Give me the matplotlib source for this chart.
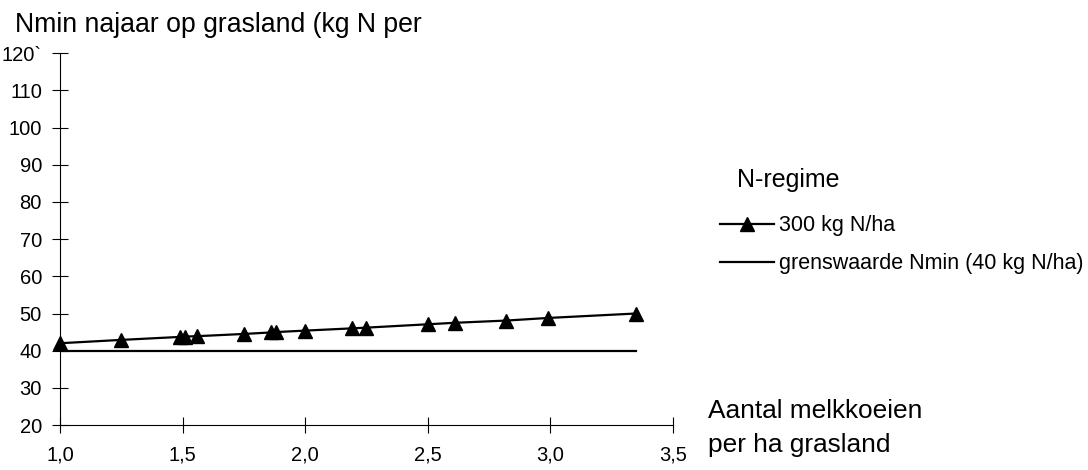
import matplotlib.pyplot as plt
from matplotlib.lines import Line2D

plt.rcParams['font.family'] = ['Liberation Sans', 'DejaVu Sans']

# koeien per ha grasland en Nmin najaar bij 300 kg N/ha
koeien = [1.0, 1.25, 1.49, 1.51, 1.56, 1.75, 1.86, 1.88, 2.0, 2.19, 2.25, 2.5, 2.61, 2.82, 2.99, 3.35]
nmin = [42.0, 42.9, 43.7, 43.8, 43.9, 44.5, 44.9, 45.0, 45.4, 46.0, 46.2, 47.1, 47.5, 48.1, 48.8, 50.0]
# grenswaarde Nmin (40 kg N/ha)
grens_x = [1.0, 3.35]
grens_y = [40, 40]

x_ticks = [1.0, 1.5, 2.0, 2.5, 3.0, 3.5]
y_ticks = list(range(20, 121, 10))

fig = plt.figure(figsize=(10.88, 4.70), dpi=100)
ax = fig.add_axes([0.0551, 0.0957, 0.5634, 0.7909])

ax.plot(grens_x, grens_y, color='black', lw=1.6)
ax.plot(koeien, nmin, color='black', lw=1.6, marker='^', ms=9.5, clip_on=False)

ax.set_xlim(1.0, 3.5)
ax.set_ylim(20, 120)
ax.set_xticks(x_ticks)
ax.set_xticklabels([f"{v:.1f}".replace('.', ',') for v in x_ticks], fontsize=14.5)
ax.set_yticks(y_ticks)
ax.set_yticklabels([str(v) for v in y_ticks[:-1]] + ['120`'], fontsize=14.5)
ax.tick_params(direction='inout', length=12, width=0.8, pad=7)
ax.tick_params(axis='x', pad=9)
for s in ['top', 'right']:
    ax.spines[s].set_visible(False)
for s in ['left', 'bottom']:
    ax.spines[s].set_linewidth(0.8)

fig.text(0.0138, 0.9319, 'Nmin najaar op grasland (kg N per', fontsize=19.2, va='baseline')
fig.text(0.6507, 0.1100, 'Aantal melkkoeien', fontsize=18.9, va='baseline')
fig.text(0.6507, 0.0390, 'per ha grasland', fontsize=18.9, va='baseline')

# legenda
fig.text(0.6774, 0.6028, 'N-regime', fontsize=18, va='baseline')
handles = [Line2D([], [], color='black', lw=1.6, marker='^', ms=10),
           Line2D([], [], color='black', lw=1.6)]
labels = ['300 kg N/ha', 'grenswaarde Nmin (40 kg N/ha)']
fig.legend(handles, labels, loc='upper left', bbox_to_anchor=(0.6618, 0.542),
           frameon=False, fontsize=15.5, handlelength=2.5, handletextpad=0.25,
           labelspacing=0.8, borderpad=0, borderaxespad=0)

fig.savefig('out.png', dpi=100)
